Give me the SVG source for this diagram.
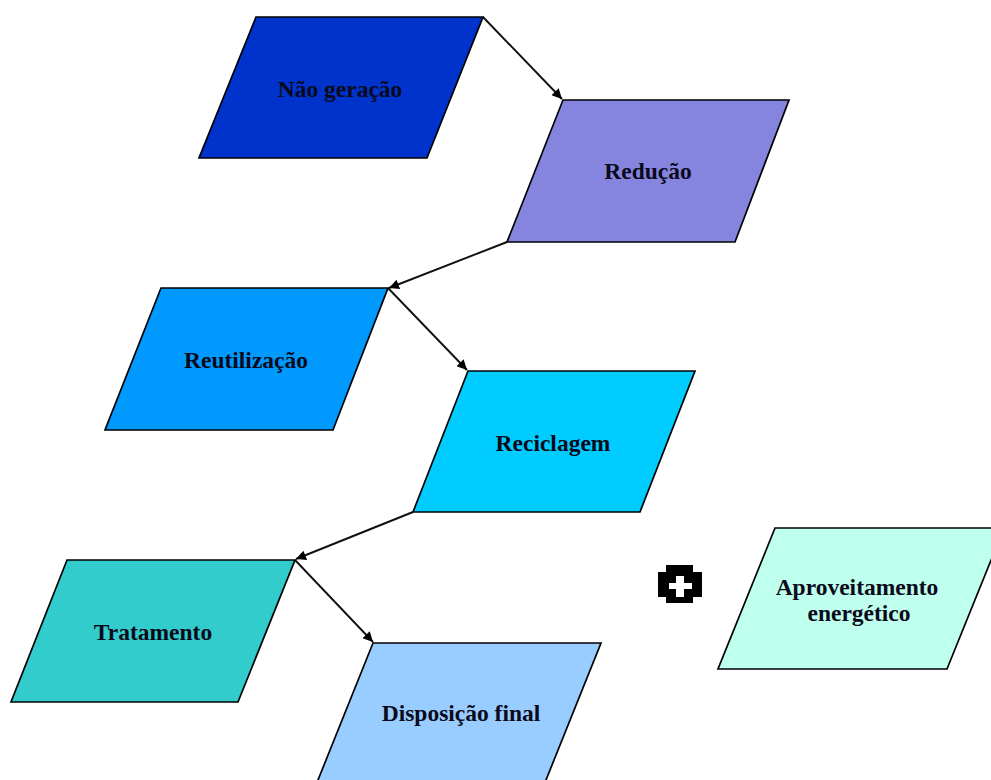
<svg xmlns="http://www.w3.org/2000/svg" width="991" height="780" viewBox="0 0 991 780">
<style>
.n{stroke:#000;stroke-width:1.7;stroke-linejoin:miter}
.t{font-family:"Liberation Serif","Times New Roman",serif;font-weight:bold;font-size:23.5px;fill:#0a0a1a;text-anchor:middle}
.c{stroke:#111;stroke-width:1.9;fill:none;marker-end:url(#ah)}
</style>
<defs>
<marker id="ah" viewBox="0 0 10 10" refX="10" refY="5" markerWidth="13" markerHeight="10" markerUnits="userSpaceOnUse" orient="auto">
<path d="M0,0 L10,5 L0,10 z" fill="#000"/>
</marker>
</defs>
<rect width="991" height="780" fill="#fff"/>
<g id="connectors">
<line class="c" x1="483" y1="17" x2="562" y2="99"/>
<line class="c" x1="507" y1="242" x2="389" y2="288"/>
<line class="c" x1="388" y1="288" x2="467" y2="370"/>
<line class="c" x1="413" y1="512" x2="296" y2="559"/>
<line class="c" x1="295" y1="560" x2="373" y2="642"/>
</g>
<g id="nao-geracao">
<polygon class="n" points="256,17 483,17 427,158 199,158" fill="#0033CC"/>
<text class="t" x="340" y="97">Não geração</text>
</g>
<g id="reducao">
<polygon class="n" points="563,100 789,100 735,242 507,242" fill="#8585DF"/>
<text class="t" x="648" y="179">Redução</text>
</g>
<g id="reutilizacao">
<polygon class="n" points="161,288 388,288 333,430 105,430" fill="#0099FF"/>
<text class="t" x="246" y="368">Reutilização</text>
</g>
<g id="reciclagem">
<polygon class="n" points="468,371 695,371 640,512 413,512" fill="#00CCFF"/>
<text class="t" x="553" y="451">Reciclagem</text>
</g>
<g id="tratamento">
<polygon class="n" points="67,560 295,560 238,702 11,702" fill="#33CCCC"/>
<text class="t" x="153" y="640">Tratamento</text>
</g>
<g id="disposicao-final">
<polygon class="n" points="373,643 601,643 544,785 316,785" fill="#99CCFF"/>
<text class="t" x="461" y="721">Disposição final</text>
</g>
<g id="aproveitamento">
<polygon class="n" points="775,528 1004,528 947,669 718,669" fill="#BFFFEE"/>
<text class="t" x="857" y="595">Aproveitamento</text>
<text class="t" x="859" y="621">energético</text>
</g>
<g id="plus">
<path d="M666,565 H693 V572 H702 V597 H693 V603 H666 V597 H658 V572 H666 Z" fill="#000"/>
<rect x="669" y="583" width="23" height="6" fill="#fff"/>
<rect x="676" y="576" width="8" height="21" fill="#fff"/>
</g>
</svg>
